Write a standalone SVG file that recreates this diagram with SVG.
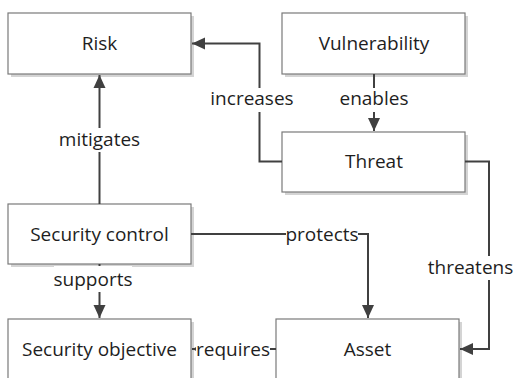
<svg xmlns="http://www.w3.org/2000/svg" width="513" height="378" viewBox="0 0 513 378">
  <style>
    .box { fill: #ffffff; stroke: #7a7a7a; stroke-width: 1.2; }
    .shadow { fill: #d4d4d4; }
    .txt { font-family: "Open Sans", "Liberation Sans", sans-serif; font-size: 19px; fill: #1e1e1e; text-anchor: middle; }
    .edge { fill: none; stroke: #404040; stroke-width: 2; }
    .lblbg { fill: #ffffff; }
  </style>
  <defs>
    <marker id="arrow" markerUnits="userSpaceOnUse" markerWidth="14" markerHeight="14" viewBox="0 0 14 14" refX="13" refY="7" orient="auto">
      <path d="M0,1 L13,7 L0,13 Z" fill="#404040"/>
    </marker>
  </defs>

  <!-- nodes -->
  <g id="risk">
    <rect class="shadow" x="11" y="16" width="183" height="61"/>
    <rect class="box" x="8" y="13" width="183" height="61"/>
    <text class="txt" x="99.5" y="50">Risk</text>
  </g>
  <g id="vulnerability">
    <rect class="shadow" x="285" y="16" width="183" height="61"/>
    <rect class="box" x="282" y="13" width="183" height="61"/>
    <text class="txt" x="374" y="50">Vulnerability</text>
  </g>
  <g id="threat">
    <rect class="shadow" x="285" y="135" width="183" height="60"/>
    <rect class="box" x="282" y="132" width="183" height="60"/>
    <text class="txt" x="374" y="168">Threat</text>
  </g>
  <g id="security-control">
    <rect class="shadow" x="11" y="207" width="183" height="60"/>
    <rect class="box" x="8" y="204" width="183" height="60"/>
    <text class="txt" x="99.5" y="240.5">Security control</text>
  </g>
  <g id="security-objective">
    <rect class="shadow" x="11" y="322" width="183" height="60"/>
    <rect class="box" x="8" y="319" width="183" height="60"/>
    <text class="txt" x="99.5" y="356">Security objective</text>
  </g>
  <g id="asset">
    <rect class="shadow" x="279" y="322" width="183" height="60"/>
    <rect class="box" x="276" y="319" width="183" height="60"/>
    <text class="txt" x="367.5" y="356">Asset</text>
  </g>

  <!-- connectors -->
  <g id="connectors">
    <!-- Threat increases Risk -->
    <path class="edge" d="M282,161.5 H259.5 V43.5 H192" marker-end="url(#arrow)"/>
    <rect class="lblbg" x="210" y="88" width="84" height="24"/>
    <text class="txt" x="252" y="104.5">increases</text>

    <!-- Vulnerability enables Threat -->
    <path class="edge" d="M374,74 V131" marker-end="url(#arrow)"/>
    <rect class="lblbg" x="339" y="88" width="70" height="24"/>
    <text class="txt" x="374" y="105">enables</text>

    <!-- Security control mitigates Risk -->
    <path class="edge" d="M99.5,204 V75" marker-end="url(#arrow)"/>
    <rect class="lblbg" x="57" y="128" width="85" height="24"/>
    <text class="txt" x="99.5" y="146">mitigates</text>

    <!-- Threat threatens Asset -->
    <path class="edge" d="M465,161.5 H489 V349 H460" marker-end="url(#arrow)"/>
    <rect class="lblbg" x="428" y="256" width="85" height="24"/>
    <text class="txt" x="470.5" y="274">threatens</text>

    <!-- Security control protects Asset -->
    <path class="edge" d="M191,234 H368 V318" marker-end="url(#arrow)"/>
    <rect class="lblbg" x="286" y="223" width="72" height="24"/>
    <text class="txt" x="322" y="240.5">protects</text>

    <!-- Security control supports Security objective -->
    <path class="edge" d="M99.5,264 V318" marker-end="url(#arrow)"/>
    <rect class="lblbg" x="54" y="266" width="78" height="26"/>
    <text class="txt" x="93" y="286">supports</text>

    <!-- Asset requires Security objective -->
    <path class="edge" d="M276,349 H192" marker-end="url(#arrow)"/>
    <rect class="lblbg" x="196" y="337" width="74" height="24"/>
    <text class="txt" x="233" y="356">requires</text>
  </g>
</svg>
